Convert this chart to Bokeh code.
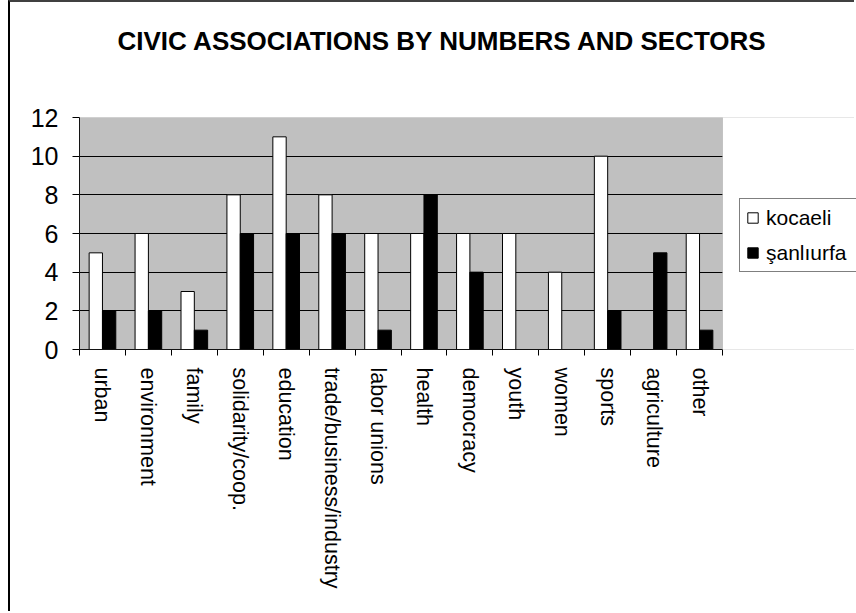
import math
from bokeh.plotting import figure
from bokeh.models import (FixedTicker, Legend, LegendItem, ColumnDataSource, Range1d,
                          BoxAnnotation, Title)
from bokeh.transform import dodge
from bokeh.embed import file_html
from bokeh.resources import INLINE

categories = ["urban", "environment", "family", "solidarity/coop.", "education",
              "trade/business/industry", "labor unions", "health", "democracy",
              "youth", "women", "sports", "agriculture", "other"]
kocaeli = [5, 6, 3, 8, 11, 8, 6, 6, 6, 6, 4, 10, 0, 6]
sanliurfa = [2, 2, 1, 6, 6, 6, 1, 8, 4, 0, 0, 2, 5, 1]
series_names = ["kocaeli", "şanlıurfa"]
y_ticks = [0, 2, 4, 6, 8, 10, 12]
title_text = "CIVIC ASSOCIATIONS BY NUMBERS AND SECTORS"

FONT = "Liberation Sans"
n = len(categories)
pos = [i + 0.5 for i in range(n)]
boundaries = list(range(n + 1))
src = ColumnDataSource(dict(x=pos, cat=categories, k=kocaeli, s=sanliurfa))

# plot area is 643 px wide for n categories; frame extends to window edge (777 px)
x_end = n * 777.0 / 643.0

p = figure(width=846, height=611,
           x_range=Range1d(0, x_end), y_range=Range1d(y_ticks[0], y_ticks[-1]),
           output_backend="svg", toolbar_location=None,
           min_border_left=69, min_border_right=0,
           min_border_top=115, min_border_bottom=264)
p.styles = {"border-top": "2px solid #404040", "border-left": "2px solid #000000",
            "margin-left": "8px"}

main_title = Title(text=title_text, text_font=FONT, text_font_style="bold",
                   text_font_size="26px", align="left", offset=38,
                   vertical_align="bottom", standoff=0, text_color="black")
spacer = Title(text=" ", text_font=FONT, text_font_size="10px", standoff=49)
p.title = None
p.above = [spacer, main_title]

p.background_fill_color = "#c0c0c0"
p.border_fill_color = "white"
p.outline_line_color = None

r1 = p.vbar(x=dodge("x", -0.145, range=p.x_range), top="k", width=0.29, source=src,
            fill_color="white", line_color="black", line_width=1)
r2 = p.vbar(x=dodge("x", 0.145, range=p.x_range), top="s", width=0.29, source=src,
            fill_color="black", line_color="black", line_width=1)

# white cover right of the plot area, then the plot-area border
p.add_layout(BoxAnnotation(left=n, fill_color="white", fill_alpha=1, line_color=None))
p.add_layout(BoxAnnotation(left=0, right=n, bottom=y_ticks[0], top=y_ticks[-1],
                           fill_alpha=0, line_color="#808080", line_width=1))

# y axis
p.yaxis.ticker = FixedTicker(ticks=y_ticks)
p.yaxis.major_tick_out = 7
p.yaxis.major_tick_in = 0
p.yaxis.minor_tick_line_color = None
p.yaxis.axis_line_color = "black"
p.yaxis.major_tick_line_color = "black"
p.yaxis.major_label_text_font = FONT
p.yaxis.major_label_text_font_size = "25px"
p.yaxis.major_label_text_color = "black"
p.yaxis.major_label_standoff = 14

# x axis
p.xaxis.ticker = FixedTicker(ticks=pos, minor_ticks=boundaries)
p.xaxis.bounds = (0, n)
p.xaxis.major_tick_out = 0
p.xaxis.major_tick_in = 0
p.xaxis.minor_tick_out = 6
p.xaxis.minor_tick_in = 0
p.xaxis.minor_tick_line_color = "black"
p.xaxis.axis_line_color = "black"
p.xaxis.major_label_overrides = {x: c for x, c in zip(pos, categories)}
p.xaxis.major_label_orientation = -math.pi / 2
p.xaxis.major_label_text_font = FONT
p.xaxis.major_label_text_font_size = "21.5px"
p.xaxis.major_label_text_color = "black"
p.xaxis.major_label_standoff = 12

p.xgrid.visible = False
p.ygrid.ticker = FixedTicker(ticks=y_ticks)
p.ygrid.grid_line_color = "black"
p.ygrid.grid_line_width = 1

legend = Legend(items=[LegendItem(label=series_names[0], renderers=[r1]),
                       LegendItem(label=series_names[1], renderers=[r2])],
                location=(660, 77), orientation="vertical",
                label_text_font=FONT, label_text_font_size="21px",
                label_text_color="black",
                glyph_width=13, glyph_height=13, label_standoff=7,
                label_height=25, label_width=100, spacing=10, padding=6,
                margin=0,
                border_line_color="black", border_line_width=1,
                background_fill_color="white", background_fill_alpha=1)
p.add_layout(legend)

open("out.html", "w").write(file_html(p, INLINE))
